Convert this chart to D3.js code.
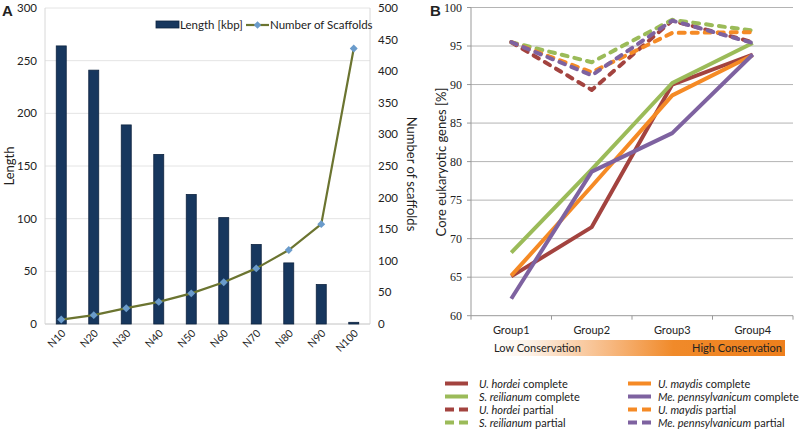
<!DOCTYPE html>
<html><head><meta charset="utf-8">
<script src="https://cdn.jsdelivr.net/npm/d3@7"></script>
<style>
body{margin:0;background:#fff;}
svg{display:block;}
text{font-family:Lato,"Open Sans","Liberation Sans",sans-serif;fill:#222;}
</style></head>
<body>
<svg id="c" width="799" height="432"></svg>
<script>
// Panel A data
const nCats = ["N10","N20","N30","N40","N50","N60","N70","N80","N90","N100"];
const lengthKbp = [264, 241, 189, 161, 123, 101, 75.5, 58, 37.5, 1.6];
const numScaffolds = [7, 14, 25, 35, 48.5, 66, 88, 117, 158, 436];
const leftTicksA = [0, 50, 100, 150, 200, 250, 300];
const rightTicksA = [0, 50, 100, 150, 200, 250, 300, 350, 400, 450, 500];

// Panel B data
const groups = ["Group1","Group2","Group3","Group4"];
const uHordeiComplete = [65.1, 71.5, 90.0, 93.9];
const sReilianumComplete = [68.2, 79.0, 90.2, 95.4];
const uMaydisComplete = [65.2, 76.8, 88.6, 93.8];
const mePennComplete = [62.2, 78.7, 83.7, 93.9];
const uHordeiPartial = [95.5, 89.3, 98.3, 95.5];
const sReilianumPartial = [95.5, 92.9, 98.4, 97.0];
const uMaydisPartial = [95.5, 91.6, 96.7, 96.8];
const mePennPartial = [95.5, 91.2, 98.3, 95.4];
const yTicksB = [60, 65, 70, 75, 80, 85, 90, 95, 100];

const svg = d3.select("#c");

// ---------- Panel A ----------
const A = {l:45, r:370, t:8, b:324};
const xA = d3.scaleBand().domain(nCats).range([A.l, A.r]);
const yL = d3.scaleLinear().domain([0,300]).range([A.b, A.t]);
const yR = d3.scaleLinear().domain([0,500]).range([A.b, A.t]);
const gA = svg.append("g");

gA.selectAll("line.grid").data(leftTicksA).join("line")
  .attr("x1", A.l).attr("x2", A.r).attr("y1", d=>yL(d)).attr("y2", d=>yL(d))
  .attr("stroke", "#e4e4e4").attr("stroke-width", 1);
gA.append("line").attr("x1",A.l).attr("x2",A.l).attr("y1",A.t).attr("y2",A.b).attr("stroke","#d8d8d8");
gA.append("line").attr("x1",A.r).attr("x2",A.r).attr("y1",A.t).attr("y2",A.b).attr("stroke","#d8d8d8");
gA.append("line").attr("x1",A.l).attr("x2",A.r).attr("y1",A.b).attr("y2",A.b).attr("stroke","#d0d0d0");

gA.selectAll("text.yl").data(leftTicksA).join("text")
  .attr("x", 37).attr("y", d=>yL(d)+4).attr("text-anchor","end")
  .attr("font-size", 11.5).text(d=>d);
gA.selectAll("text.yr").data(rightTicksA).join("text")
  .attr("x", 378).attr("y", d=>yR(d)+4).attr("text-anchor","start")
  .attr("font-size", 11.5).text(d=>d);

const bw = 10;
gA.selectAll("rect.bar").data(nCats).join("rect")
  .attr("x", d=>xA(d)+xA.bandwidth()/2-bw/2)
  .attr("y", (d,i)=>yL(lengthKbp[i]))
  .attr("width", bw)
  .attr("height", (d,i)=>A.b-yL(lengthKbp[i]))
  .attr("fill", "#17375E").attr("stroke", "#0e2440").attr("stroke-width", 0.8);

const lineA = d3.line().x((d,i)=>xA(nCats[i])+xA.bandwidth()/2).y(d=>yR(d));
gA.append("path").datum(numScaffolds).attr("d", lineA)
  .attr("fill","none").attr("stroke","#6b7430").attr("stroke-width",2.2);
gA.selectAll("path.mk").data(numScaffolds).join("path")
  .attr("d", d3.symbol().type(d3.symbolDiamond2).size(40))
  .attr("transform", (d,i)=>`translate(${xA(nCats[i])+xA.bandwidth()/2},${yR(d)})`)
  .attr("fill", "#6a9bcb");

gA.selectAll("text.xl").data(nCats).join("text")
  .attr("transform", d=>`translate(${xA(d)+xA.bandwidth()/2+5},${A.b+10}) rotate(-45)`)
  .attr("text-anchor","end").attr("font-size",10.5).text(d=>d);

gA.append("text").attr("transform",`translate(14,166) rotate(-90)`)
  .attr("text-anchor","middle").attr("font-size",13).text("Length");
gA.append("text").attr("transform",`translate(407,174) rotate(90)`)
  .attr("text-anchor","middle").attr("font-size",13).text("Number of scaffolds");
gA.append("text").attr("x",2).attr("y",16).attr("font-size",15).attr("font-weight","bold")
  .style("font-family","Liberation Sans, Arial, sans-serif").text("A");

// legend A
gA.append("rect").attr("x",156).attr("y",21).attr("width",23).attr("height",7)
  .attr("fill","#17375E").attr("stroke","#0e2440").attr("stroke-width",0.8);
gA.append("text").attr("x",180).attr("y",29).attr("font-size",11.5).text("Length [kbp]");
gA.append("line").attr("x1",246).attr("x2",269).attr("y1",25).attr("y2",25)
  .attr("stroke","#6b7430").attr("stroke-width",2.2);
gA.append("path").attr("d", d3.symbol().type(d3.symbolDiamond2).size(36))
  .attr("transform","translate(257.5,25)").attr("fill","#6a9bcb");
gA.append("text").attr("x",270).attr("y",29).attr("font-size",11.5).text("Number of Scaffolds");

// ---------- Panel B ----------
const B = {l:471, r:793, t:7.5, b:315.7};
const xB = d3.scaleBand().domain(groups).range([B.l, B.r]);
const yB = d3.scaleLinear().domain([60,100]).range([B.b, B.t]);
const gB = svg.append("g");

gB.selectAll("line.grid").data(yTicksB.slice(1)).join("line")
  .attr("x1", B.l).attr("x2", B.r).attr("y1", d=>yB(d)).attr("y2", d=>yB(d))
  .attr("stroke", "#b4b4b4").attr("stroke-width", 1);
gB.append("line").attr("x1",B.l).attr("x2",B.l).attr("y1",B.t).attr("y2",B.b).attr("stroke","#999");
gB.append("line").attr("x1",B.l).attr("x2",B.r).attr("y1",B.b).attr("y2",B.b).attr("stroke","#999");
gB.selectAll("line.tk").data(yTicksB).join("line")
  .attr("x1",B.l-4).attr("x2",B.l).attr("y1",d=>yB(d)).attr("y2",d=>yB(d)).attr("stroke","#999");
const bounds = groups.map(g=>xB(g)).concat([B.r]);
gB.selectAll("line.xt").data(bounds).join("line")
  .attr("x1",d=>d).attr("x2",d=>d).attr("y1",B.b).attr("y2",B.b+4).attr("stroke","#999");

gB.selectAll("text.yt").data(yTicksB).join("text")
  .attr("x", 462).attr("y", d=>yB(d)+4).attr("text-anchor","end")
  .attr("font-size",12).style("font-family","Liberation Serif, serif").text(d=>d);
gB.selectAll("text.xt").data(groups).join("text")
  .attr("x", d=>xB(d)+xB.bandwidth()/2).attr("y", 334).attr("text-anchor","middle")
  .attr("font-size",11).text(d=>d);

gB.append("text").attr("transform",`translate(446,162) rotate(-90)`)
  .attr("text-anchor","middle").attr("font-size",13).text("Core eukaryotic genes [%]");
gB.append("text").attr("x",430).attr("y",16).attr("font-size",15).attr("font-weight","bold")
  .style("font-family","Liberation Sans, Arial, sans-serif").text("B");

const cRed = "#a3433f", cGreen = "#9bbb59", cOrange = "#f58a25", cPurple = "#7e62a0";
const series = [
  {name:"U. hordei", suf:"complete", v:uHordeiComplete, c:cRed, dash:false},
  {name:"S. reilianum", suf:"complete", v:sReilianumComplete, c:cGreen, dash:false},
  {name:"U. maydis", suf:"complete", v:uMaydisComplete, c:cOrange, dash:false},
  {name:"Me. pennsylvanicum", suf:"complete", v:mePennComplete, c:cPurple, dash:false},
  {name:"U. hordei", suf:"partial", v:uHordeiPartial, c:cRed, dash:true},
  {name:"S. reilianum", suf:"partial", v:sReilianumPartial, c:cGreen, dash:true},
  {name:"U. maydis", suf:"partial", v:uMaydisPartial, c:cOrange, dash:true},
  {name:"Me. pennsylvanicum", suf:"partial", v:mePennPartial, c:cPurple, dash:true}
];
const lineB = d3.line().x((d,i)=>xB(groups[i])+xB.bandwidth()/2).y(d=>yB(d));
gB.selectAll("path.s").data(series).join("path")
  .attr("d", d=>lineB(d.v)).attr("fill","none")
  .attr("stroke", d=>d.c).attr("stroke-width",4)
  .attr("stroke-linecap", d=>d.dash?"round":"butt")
  .attr("stroke-linejoin","round")
  .attr("stroke-dasharray", d=>d.dash?"6,7":null);

// gradient bar
const defs = svg.append("defs");
const grad = defs.append("linearGradient").attr("id","cons").attr("x1","0%").attr("x2","100%");
grad.append("stop").attr("offset","0%").attr("stop-color","#ffffff");
grad.append("stop").attr("offset","12%").attr("stop-color","#fdf3ea");
grad.append("stop").attr("offset","40%").attr("stop-color","#f7b982");
grad.append("stop").attr("offset","62%").attr("stop-color","#f08a2a");
grad.append("stop").attr("offset","100%").attr("stop-color","#ee7f1c");
gB.append("rect").attr("x",491).attr("y",340).attr("width",294).attr("height",16).attr("fill","url(#cons)");
gB.append("text").attr("x",494).attr("y",352).attr("font-size",11).text("Low Conservation");
gB.append("text").attr("x",782).attr("y",352).attr("text-anchor","end").attr("font-size",11).text("High Conservation");

// legend B
const legOrder = [series[0], series[1], series[4], series[5], series[2], series[3], series[6], series[7]];
legOrder.forEach((d,i)=>{
  const col = i<4?0:1, row = i%4;
  const x0 = col ? 628 : 445, y0 = 383.5 + row*13;
  gB.append("line").attr("x1",x0).attr("x2",x0+23).attr("y1",y0).attr("y2",y0)
    .attr("stroke", d.c).attr("stroke-width",4)
    .attr("stroke-dasharray", d.dash?"9,5":null);
  const tx = x0 + (col?30:34);
  const t1 = gB.append("text").attr("x",tx).attr("y",y0+4).attr("font-size",11)
    .attr("font-style","italic").text(d.name);
  const w = t1.node().getComputedTextLength();
  gB.append("text").attr("x",tx+w+3).attr("y",y0+4).attr("font-size",11).text(d.suf);
});
</script>
</body></html>
